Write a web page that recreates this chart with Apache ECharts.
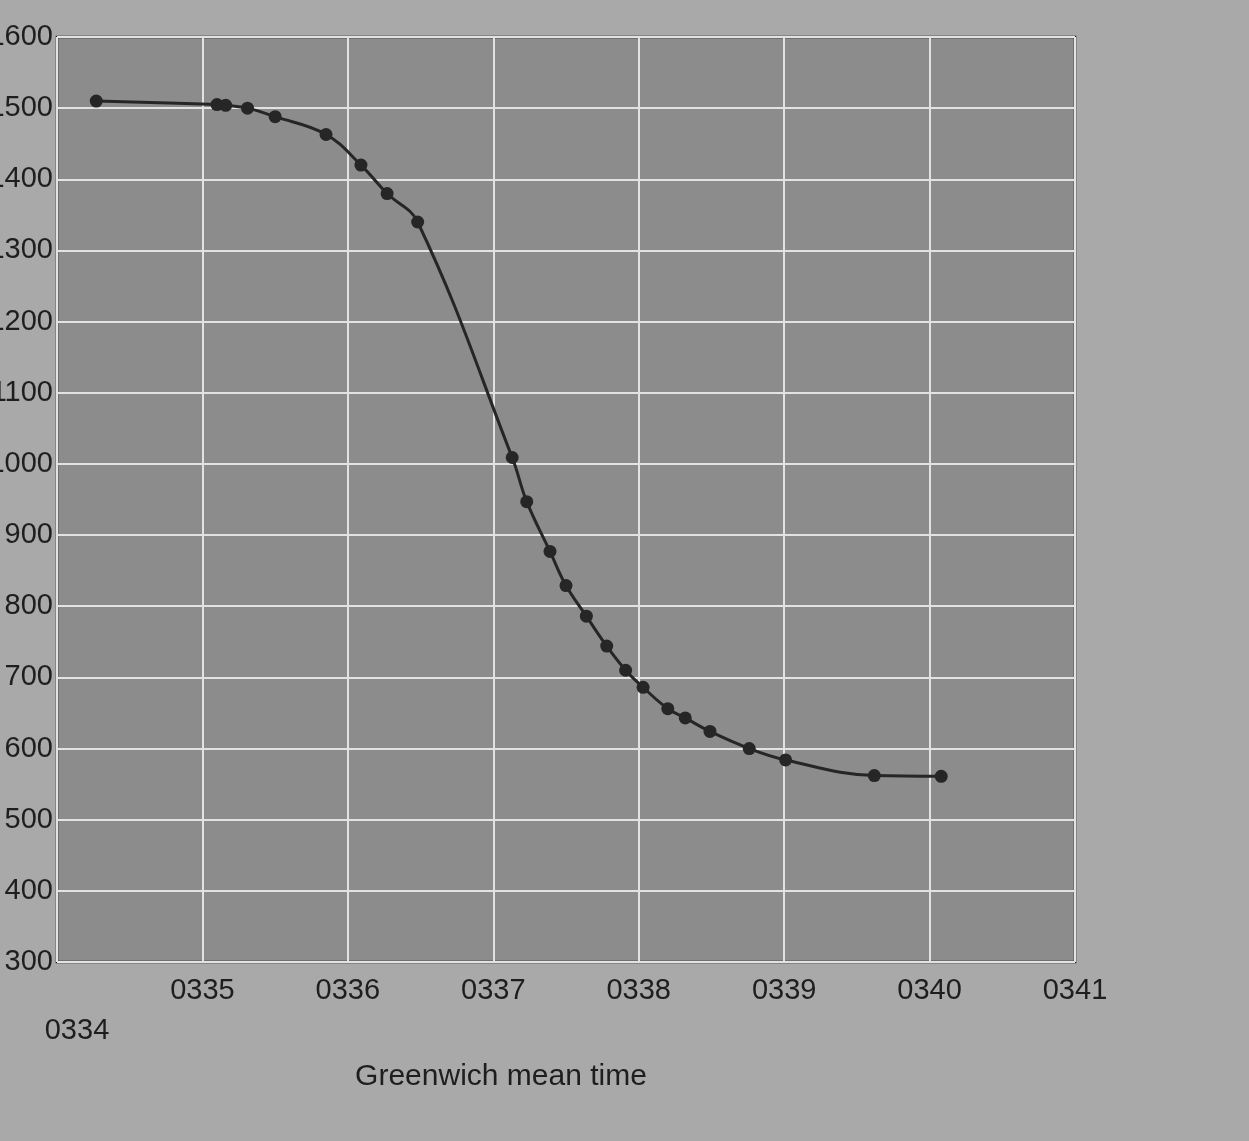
<!DOCTYPE html>
<html>
<head>
<meta charset="utf-8">
<script src="https://cdn.jsdelivr.net/npm/echarts@6/dist/echarts.min.js"></script>
<style>
  html, body { margin: 0; padding: 0; background: #a9a9a9; }
  #chart { width: 1249px; height: 1141px; }
</style>
</head>
<body>
<div id="chart"></div>
<script>
// time in minutes after 0334 GMT
const times = [0.27, 1.10, 1.16, 1.31, 1.50, 1.85, 2.09, 2.27, 2.48, 3.13, 3.23, 3.39, 3.50, 3.64,
  3.78, 3.91, 4.03, 4.20, 4.32, 4.49, 4.76, 5.01, 5.62, 6.08];
const values = [1510, 1505, 1504, 1500, 1488, 1463, 1420, 1380, 1340, 1009, 947, 877, 829, 786,
  744, 710, 686, 656, 643, 624, 600, 584, 562, 561];
const timeLabels = ['0334', '0335', '0336', '0337', '0338', '0339', '0340', '0341'];

const points = times.map((t, i) => [t, values[i]]);

const chart = echarts.init(document.getElementById('chart'));

chart.setOption({
  backgroundColor: '#a9a9a9',
  animation: false,
  textStyle: { fontFamily: 'Liberation Sans, Arial, sans-serif' },
  grid: {
    left: 57,
    right: 174,
    top: 37,
    bottom: 179,
    containLabel: false,
    outerBoundsMode: 'none',
    show: true,
    backgroundColor: '#8c8c8c',
    borderColor: '#1c1c1c',
    borderWidth: 2.5
  },
  xAxis: {
    type: 'value',
    min: 0,
    max: 7,
    interval: 1,
    name: 'Greenwich mean time',
    nameLocation: 'middle',
    nameGap: 100,
    nameTextStyle: { fontSize: 30, color: '#1e1e1e', padding: [0, 130, 0, 0] },
    axisLine: { show: false },
    axisTick: { show: false },
    axisLabel: {
      fontSize: 29,
      color: '#1e1e1e',
      margin: 14,
      formatter: function (v) {
        const s = timeLabels[Math.round(v)];
        return Math.round(v) === 0 ? '{low|' + s + '}' : s;
      },
      rich: {
        low: { fontSize: 29, color: '#1e1e1e', padding: [40, 0, 0, 40] }
      }
    },
    splitLine: { lineStyle: { color: '#e2e2e2', width: 2 } }
  },
  yAxis: {
    type: 'value',
    min: 300,
    max: 1600,
    interval: 100,
    axisLine: { show: false },
    axisTick: { show: false },
    axisLabel: {
      fontSize: 29,
      color: '#1e1e1e',
      margin: 4,
      formatter: function (v) { return String(v); }
    },
    splitLine: { lineStyle: { color: '#e2e2e2', width: 2 } }
  },
  series: [
    {
      type: 'line',
      data: points,
      smooth: 0.4,
      symbol: 'circle',
      symbolSize: 13,
      lineStyle: { color: '#262626', width: 3 },
      itemStyle: { color: '#262626' }
    }
  ]
});
</script>
</body>
</html>
